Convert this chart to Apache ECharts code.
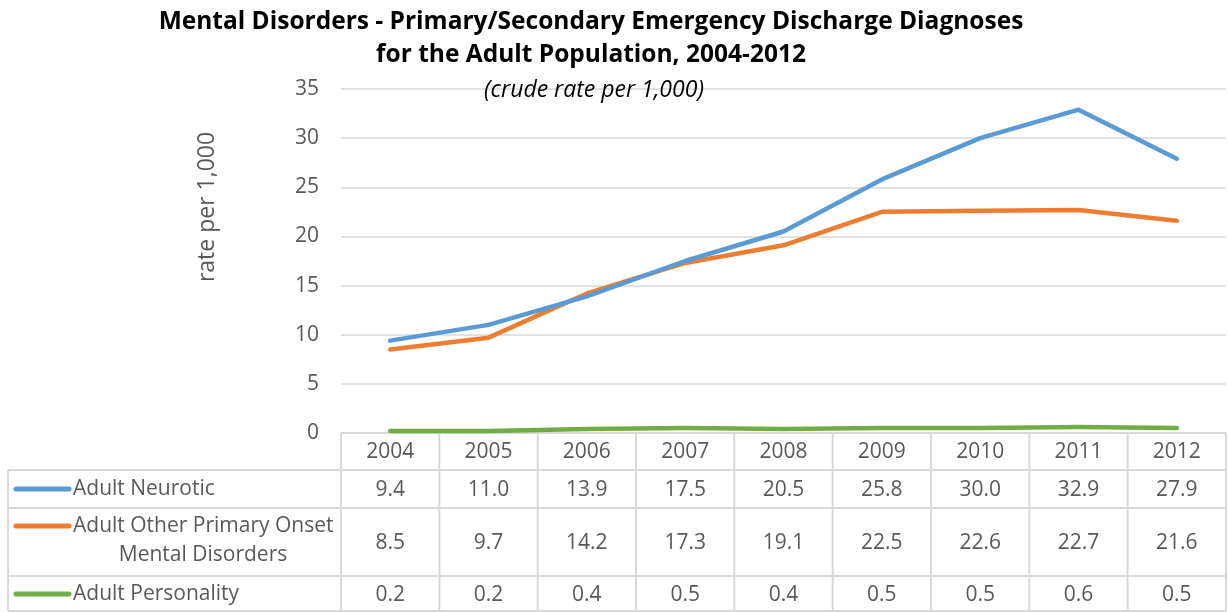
<!DOCTYPE html>
<html>
<head>
<meta charset="utf-8">
<script src="https://cdn.jsdelivr.net/npm/echarts@6/dist/echarts.min.js"></script>
<style>
  html, body { margin: 0; padding: 0; background: #fff; }
  #chart { width: 1228px; height: 612px; }
</style>
</head>
<body>
<div id="chart"></div>
<script>
// chart data
const years = ["2004", "2005", "2006", "2007", "2008", "2009", "2010", "2011", "2012"];
const neurotic = [9.4, 11.0, 13.9, 17.5, 20.5, 25.8, 30.0, 32.9, 27.9];
const otherPrimary = [8.5, 9.7, 14.2, 17.3, 19.1, 22.5, 22.6, 22.7, 21.6];
const personality = [0.2, 0.2, 0.4, 0.5, 0.4, 0.5, 0.5, 0.6, 0.5];
const seriesNames = ["Adult Neurotic", "Adult Other Primary Onset\nMental Disorders", "Adult Personality"];
const seriesColors = ["#5B9BD5", "#ED7D31", "#70AD47"];
const yTicks = [0, 5, 10, 15, 20, 25, 30, 35];

const FONT = "Open Sans";
const TEXT = "#595959";
const LINE = "#D9D9D9";

const chart = echarts.init(document.getElementById("chart"));

const allSeries = [neurotic, otherPrimary, personality];

chart.setOption({
  animation: false,
  textStyle: { fontFamily: FONT },
  title: [
    {
      text: "Mental Disorders - Primary/Secondary Emergency Discharge Diagnoses\nfor the Adult Population, 2004-2012",
      left: 586, top: 1, textAlign: "center",
      textStyle: { fontSize: 24.5, fontWeight: "bold", color: "#000", lineHeight: 33, fontFamily: FONT }
    },
    {
      text: "(crude rate per 1,000)",
      left: 589, top: 74, textAlign: "center",
      textStyle: { fontSize: 23, fontStyle: "italic", fontWeight: "normal", color: "#000", fontFamily: FONT }
    }
  ],
  grid: { left: 341, right: 2, top: 89, bottom: 179 },
  xAxis: {
    type: "category",
    data: years,
    boundaryGap: true,
    axisLine: { show: false },
    axisTick: { show: false },
    axisLabel: { show: false }
  },
  yAxis: {
    type: "value",
    min: yTicks[0],
    max: yTicks[yTicks.length - 1],
    interval: 5,
    axisLine: { show: false },
    axisTick: { show: false },
    axisLabel: { fontSize: 21, color: TEXT, margin: 22, fontFamily: FONT },
    splitLine: { lineStyle: { color: LINE, width: 1.5 } }
  },
  series: allSeries.map((d, i) => ({
    type: "line",
    name: seriesNames[i],
    data: d,
    symbol: "none",
    lineStyle: { color: seriesColors[i], width: 4.5, cap: "round", join: "round" },
    z: 10 - i
  }))
});

// axis title and data table below the plot
function buildTable() {
  const left = 8, colLeft = 341, right = 1226;
  const rowY = [433, 470, 508, 576, 611];
  const cellW = (right - colLeft) / years.length;
  const els = [];
  els.push({
    type: "text", x: 207, y: 207, rotation: Math.PI / 2,
    style: { text: "rate per 1,000", fill: TEXT, font: "23px " + FONT, align: "center", verticalAlign: "middle" },
    silent: true
  });
  const line = (x1, y1, x2, y2) => els.push({
    type: "line", shape: { x1, y1, x2, y2 },
    style: { stroke: LINE, lineWidth: 2 }, silent: true
  });
  // horizontal rules
  line(colLeft, rowY[0], right, rowY[0]);
  for (let r = 1; r < rowY.length; r++) line(left, rowY[r], right, rowY[r]);
  // vertical rules
  line(left, rowY[1], left, rowY[4]);
  for (let c = 0; c <= years.length; c++) {
    const x = colLeft + c * cellW;
    line(x, rowY[0], x, rowY[4]);
  }
  const txt = (text, x, y, align) => els.push({
    type: "text", x, y,
    style: { text, fill: TEXT, font: "21px " + FONT, align: align || "center", verticalAlign: "middle" },
    silent: true
  });
  years.forEach((yr, c) => {
    const cx = chart.convertToPixel({ xAxisIndex: 0 }, c);
    txt(yr, cx, (rowY[0] + rowY[1]) / 2 + 1);
    allSeries.forEach((d, r) => {
      txt(d[c].toFixed(1), cx, (rowY[r + 1] + rowY[r + 2]) / 2 + 1.5);
    });
  });
  // row headers with legend keys
  const keyY = [489, 526, 594];
  seriesNames.forEach((name, r) => {
    els.push({
      type: "line", shape: { x1: 16, y1: keyY[r], x2: 69, y2: keyY[r] },
      style: { stroke: seriesColors[r], lineWidth: 5, lineCap: "round" }, silent: true
    });
    const parts = name.split("\n");
    txt(parts[0], 73, keyY[r] + 0.5, "left");
    if (parts[1]) txt(parts[1], 203, keyY[r] + 29.5);
  });
  chart.setOption({ graphic: { elements: els } });
}
buildTable();
</script>
</body>
</html>
